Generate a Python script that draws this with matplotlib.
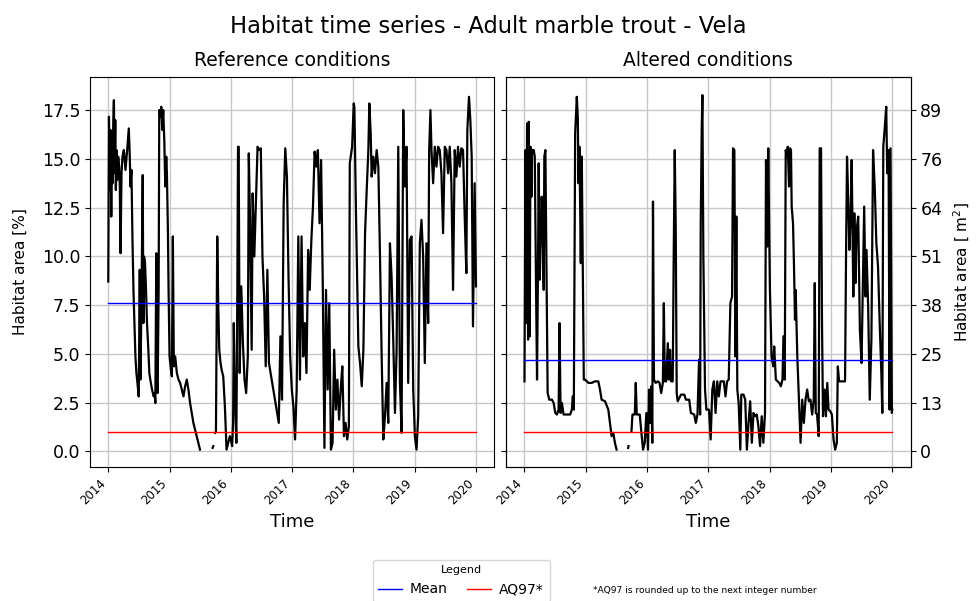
import numpy as np
import pandas as pd
import matplotlib
matplotlib.use('Agg')
import matplotlib.pyplot as plt
import matplotlib.dates as mdates

# habitat area in % of the reach, sampled along the daily record
# t = years since 2014-01-01, NaN marks missing days
ref_t = [0.000, 0.011, 0.027, 0.038, 0.049, 0.059, 0.070, 0.081, 0.092, 0.103,
         0.114, 0.124, 0.135, 0.146, 0.162, 0.178, 0.189, 0.200, 0.216, 0.232,
         0.254, 0.281, 0.308, 0.335, 0.351, 0.362, 0.378, 0.395, 0.411, 0.427,
         0.443, 0.459, 0.476, 0.497, 0.514, 0.524, 0.541, 0.562, 0.573, 0.584,
         0.600, 0.616, 0.632, 0.654, 0.670, 0.686, 0.714, 0.741, 0.757, 0.768,
         0.784, 0.795, 0.805, 0.822, 0.832, 0.849, 0.865, 0.881, 0.897, 0.914,
         0.930, 0.946, 0.957, 0.973, 0.984, 1.000, 1.022, 1.038, 1.054, 1.070,
         1.092, 1.119, 1.146, 1.173, 1.200, 1.227, 1.254, 1.281, 1.308, 1.335,
         1.362, 1.389, 1.416, 1.443, 1.470, 1.497, 1.600, 1.703, 1.714, 1.730,
         1.746, 1.757, 1.768, 1.778, 1.795, 1.811, 1.832, 1.849, 1.876, 1.903,
         1.930, 1.957, 1.984,
         2.000, 2.021, 2.037, 2.048, 2.064, 2.080, 2.090, 2.106, 2.117, 2.128,
         2.144, 2.170, 2.197, 2.223, 2.250, 2.277, 2.293, 2.314, 2.340, 2.356,
         2.383, 2.410, 2.436, 2.463, 2.489, 2.516, 2.543, 2.569, 2.596, 2.622,
         2.676, 2.729, 2.782, 2.809, 2.835, 2.862, 2.888, 2.915, 2.941, 2.968,
         2.995, 3.021, 3.048, 3.074, 3.101, 3.128, 3.154, 3.181, 3.207, 3.234,
         3.261, 3.287, 3.314, 3.340, 3.367, 3.394, 3.420, 3.447, 3.473, 3.500,
         3.527, 3.553, 3.580, 3.606, 3.633, 3.660, 3.686, 3.713, 3.739, 3.766,
         3.793, 3.819, 3.846, 3.872, 3.899, 3.926, 3.941, 3.979, 4.005,
         4.016, 4.043, 4.065, 4.081, 4.108, 4.136, 4.163, 4.190, 4.217, 4.244,
         4.260, 4.282, 4.298, 4.325, 4.352, 4.379, 4.407, 4.434, 4.461, 4.488,
         4.515, 4.542, 4.569, 4.596, 4.623, 4.650, 4.678, 4.705, 4.732, 4.759,
         4.786, 4.813, 4.840, 4.867, 4.894, 4.921, 4.949, 4.976, 5.003, 5.030,
         5.057, 5.084, 5.111, 5.138, 5.165, 5.192, 5.220, 5.236, 5.257, 5.274,
         5.301, 5.328, 5.355, 5.382, 5.409, 5.436, 5.463, 5.491, 5.518, 5.545,
         5.572, 5.599, 5.626, 5.653, 5.680, 5.707, 5.734, 5.762, 5.789, 5.816,
         5.843, 5.859, 5.886, 5.908, 5.930, 5.951, 5.978, 6.000]
ref_v = [8.71, 17.16, 13.40, 16.48, 12.04, 15.96, 13.75, 16.82, 18.01, 14.26,
         16.99, 13.40, 15.45, 13.92, 15.11, 14.60, 13.40, 10.16, 14.26, 15.11,
         15.45, 14.43, 15.45, 16.56, 15.11, 13.58, 14.43, 10.84, 8.28, 6.58,
         4.87, 4.02, 3.51, 2.82, 9.31, 3.68, 7.43, 14.17, 6.58, 9.99,
         9.65, 8.28, 6.58, 5.21, 4.02, 3.68, 3.17, 2.82, 2.99, 2.48,
         10.16, 3.51, 2.99, 8.28, 17.50, 17.16, 17.67, 16.48, 17.50, 15.96,
         13.58, 15.11, 14.26, 11.36, 8.28, 4.87, 4.19, 3.85, 11.02, 4.36,
         4.87, 4.02, 3.68, 3.51, 3.17, 2.82, 3.34, 3.68, 3.17, 2.48,
         1.97, 1.46, 1.12, 0.78, 0.44, 0.09, np.nan, 0.18, 0.27, np.nan,
         0.95, 1.03, 6.58, 11.02, 7.43, 5.21, 4.53, 4.19, 3.85, 2.31,
         0.09, 0.44, 0.78,
         0.61, 0.27, 1.46, 6.58, 3.17, 1.46, 0.44, 8.28, 15.62, 15.62,
         4.02, 8.46, 5.55, 3.68, 2.99, 4.87, 15.28, 11.70, 5.21, 13.23,
         9.99, 12.89, 15.62, 15.45, 15.54, 9.99, 7.94, 4.36, 9.31, 4.53,
         3.51, 2.48, 1.46, 5.90, 2.65, 12.72, 15.54, 14.09, 8.97, 4.87,
         3.17, 2.31, 0.61, 3.17, 11.02, 3.68, 11.02, 4.87, 6.58, 4.02,
         10.33, 8.28, 10.84, 12.55, 15.37, 14.60, 15.45, 11.70, 14.94, 8.63,
         0.18, 8.28, 3.17, 7.60, 0.09, 0.44, 5.21, 2.14, 3.68, 1.63,
         3.17, 4.36, 0.78, 1.46, 0.61, 1.29, 14.77, 15.62, 17.84,
         17.67, 12.04, 8.28, 5.38, 4.53, 3.34, 5.21, 11.19, 13.40, 15.45,
         17.84, 16.31, 14.09, 15.11, 14.26, 15.45, 14.60, 9.99, 4.87, 0.61,
         1.80, 3.51, 1.46, 10.67, 8.97, 5.73, 1.97, 5.21, 15.62, 3.51,
         0.95, 17.50, 13.58, 15.62, 3.51, 10.84, 11.02, 3.17, 0.78, 0.09,
         1.80, 10.67, 11.87, 9.99, 4.53, 10.67, 6.58, 15.45, 17.50, 15.45,
         13.75, 15.62, 14.60, 15.62, 15.45, 14.26, 11.19, 15.62, 15.45, 14.26,
         15.62, 13.75, 8.28, 15.45, 14.09, 15.62, 14.60, 15.54, 15.45, 12.04,
         9.14, 16.48, 18.18, 16.99, 15.11, 6.41, 13.75, 8.46]

alt_t = [0.000, 0.016, 0.027, 0.043, 0.059, 0.070, 0.086, 0.097, 0.114, 0.124,
         0.151, 0.168, 0.189, 0.205, 0.222, 0.232, 0.249, 0.265, 0.281, 0.297,
         0.314, 0.324, 0.341, 0.357, 0.378, 0.405, 0.449, 0.476, 0.503, 0.530,
         0.557, 0.573, 0.589, 0.611, 0.638, 0.692, 0.746, 0.773, 0.789, 0.805,
         0.827, 0.854, 0.870, 0.881, 0.897, 0.919, 0.935, 0.951, 0.968, 0.989,
         1.043, 1.097, 1.151, 1.205, 1.232, 1.259, 1.314, 1.368, 1.395, 1.422,
         1.449, 1.476, 1.503, 1.600, 1.692, 1.698, 1.720, 1.746, 1.762, 1.800,
         1.816, 1.832, 1.881, 1.908, 1.935, 1.962,
         1.989, 2.016, 2.032, 2.054, 2.070, 2.086, 2.097, 2.113, 2.140, 2.177,
         2.204, 2.231, 2.258, 2.274, 2.290, 2.312, 2.339, 2.355, 2.376, 2.392,
         2.419, 2.435, 2.452, 2.468, 2.484, 2.500, 2.554, 2.608, 2.634, 2.688,
         2.715, 2.769, 2.796, 2.823, 2.849, 2.866, 2.876, 2.892, 2.903, 2.919,
         2.946, 2.968, 3.011, 3.038, 3.065, 3.091, 3.118, 3.145, 3.172, 3.199,
         3.253, 3.280, 3.306, 3.333, 3.360, 3.387, 3.403, 3.425, 3.441, 3.457,
         3.473, 3.495, 3.522, 3.538, 3.575, 3.602, 3.629, 3.656, 3.683, 3.710,
         3.737, 3.763, 3.790, 3.817, 3.844, 3.871, 3.898, 3.925, 3.941, 3.962,
         3.978, 4.005, 4.032,
         4.059, 4.075, 4.102, 4.156, 4.183, 4.210, 4.226, 4.247, 4.263, 4.280,
         4.296, 4.317, 4.333, 4.349, 4.360, 4.382, 4.398, 4.414, 4.425, 4.452,
         4.478, 4.505, 4.532, 4.559, 4.586, 4.613, 4.640, 4.667, 4.694, 4.720,
         4.737, 4.753, 4.774, 4.801, 4.817, 4.839, 4.855, 4.871, 4.898, 4.919,
         4.941, 4.962, 4.989, 5.016, 5.043, 5.070, 5.097, 5.113, 5.134, 5.177,
         5.231, 5.247, 5.263, 5.285, 5.301, 5.323, 5.339, 5.366, 5.382, 5.403,
         5.419, 5.446, 5.473, 5.500, 5.527, 5.543, 5.565, 5.581, 5.608, 5.634,
         5.661, 5.688, 5.715, 5.742, 5.769, 5.796, 5.823, 5.839, 5.855, 5.876,
         5.903, 5.919, 5.941, 5.957, 5.973, 5.995, 6.000]
alt_v = [3.59, 15.45, 6.58, 16.82, 5.73, 16.90, 5.90, 15.62, 13.06, 15.45,
         15.45, 15.11, 8.28, 3.68, 9.99, 14.77, 8.80, 10.67, 13.06, 11.70,
         8.28, 15.11, 15.45, 9.99, 2.99, 2.65, 2.65, 2.48, 1.97, 1.89,
         2.14, 6.58, 1.97, 2.48, 1.89, 1.89, 1.89, 2.14, 2.82, 2.14,
         16.31, 18.18, 17.16, 13.75, 15.62, 9.65, 15.11, 9.31, 3.68, 3.68,
         3.51, 3.51, 3.59, 3.59, 3.17, 2.65, 2.57, 2.14, 1.46, 0.78,
         0.95, 0.44, 0.09, np.nan, 0.18, 0.27, np.nan, 1.03, 1.89, 1.89,
         3.51, 1.89, 1.89, 0.95, 0.09, 0.44,
         1.97, 0.09, 3.17, 1.46, 3.34, 0.44, 12.81, 3.68, 3.51, 3.59,
         3.51, 2.99, 3.51, 7.60, 3.59, 3.59, 5.55, 3.68, 5.21, 3.59,
         3.59, 9.99, 15.45, 11.53, 2.99, 2.57, 2.91, 2.91, 2.65, 2.65,
         1.97, 1.89, 1.46, 1.89, 4.70, 1.89, 11.70, 16.48, 18.27, 9.99,
         3.17, 2.14, 2.14, 0.61, 3.17, 3.59, 1.97, 3.59, 2.82, 3.59,
         3.59, 2.82, 3.59, 3.68, 7.60, 7.94, 15.54, 15.45, 4.87, 12.04,
         3.17, 2.48, 0.09, 2.91, 2.91, 2.65, 0.09, 1.46, 2.57, 0.44,
         1.97, 1.80, 1.89, 1.29, 0.27, 1.80, 0.44, 1.97, 14.94, 10.50,
         15.54, 8.28, 4.87,
         4.36, 5.38, 3.68, 3.51, 3.34, 3.68, 5.90, 3.68, 15.45, 15.11,
         15.62, 13.58, 15.54, 15.45, 12.55, 11.70, 9.48, 6.75, 8.28, 4.87,
         2.65, 0.44, 2.65, 1.46, 2.65, 3.17, 2.57, 2.65, 1.89, 2.65,
         8.63, 1.97, 1.89, 0.78, 15.54, 15.54, 6.58, 1.80, 3.17, 1.80,
         3.51, 2.14, 2.06, 1.89, 0.61, 0.09, 0.44, 4.36, 3.59, 3.59,
         3.59, 9.99, 15.11, 12.72, 10.33, 12.04, 14.94, 7.94, 12.21, 8.63,
         11.36, 12.04, 6.24, 4.53, 9.48, 12.55, 7.94, 10.33, 7.43, 2.65,
         5.73, 15.45, 13.58, 10.67, 9.48, 6.58, 4.02, 1.97, 15.62, 16.48,
         17.67, 14.26, 15.45, 2.14, 15.54, 1.97, 2.14]

ref_mean = 7.6
alt_mean = 4.7
aq97 = 1.0

pct_ticks = [0, 2.5, 5, 7.5, 10, 12.5, 15, 17.5]
area_ticks = [0, 13, 25, 38, 51, 64, 76, 89]

start = pd.Timestamp('2014-01-01')
end = pd.Timestamp('2019-12-31')


def to_dates(t):
    return start + pd.to_timedelta(np.asarray(t) * 365.25, unit='D')


fig, (ax1, ax2) = plt.subplots(1, 2, sharey=True, figsize=(9.77, 6.01), dpi=100)
fig.subplots_adjust(left=0.092, right=0.932, top=0.872, bottom=0.223,
                    wspace=0.029)

panels = [(ax1, ref_t, ref_v, ref_mean, 'Reference conditions'),
          (ax2, alt_t, alt_v, alt_mean, 'Altered conditions')]

for ax, t, v, mean, title in panels:
    ax.plot(to_dates(t), v, color='black', lw=1.6)
    mean_line, = ax.plot([start, end], [mean, mean], color='blue', lw=1)
    aq_line, = ax.plot([start, end], [aq97, aq97], color='red', lw=1)
    ax.set_axisbelow(True)
    ax.grid(True, color='#c8c8c8', lw=1)
    ax.set_title(title, fontsize=13.5, pad=8)
    ax.set_xlabel('Time', fontsize=13)
    ax.xaxis.set_major_locator(mdates.YearLocator())
    ax.xaxis.set_major_formatter(mdates.DateFormatter('%Y'))
    for lab in ax.get_xticklabels():
        lab.set_rotation(45)
        lab.set_ha('right')
        lab.set_fontsize(8.5)
    ax.tick_params(axis='y', labelsize=12.5)

ax1.set_ylim(-0.8, 19.2)
ax1.set_yticks(pct_ticks)
ax1.set_ylabel('Habitat area [%]', fontsize=11, labelpad=10)

axr = ax2.twinx()
axr.set_ylim(ax2.get_ylim())
axr.set_yticks(pct_ticks)
axr.set_yticklabels([str(a) for a in area_ticks])
axr.tick_params(axis='y', labelsize=12.5)
axr.set_ylabel(r'Habitat area [ m$^2$]', fontsize=11, labelpad=7)

fig.suptitle('Habitat time series - Adult marble trout - Vela', fontsize=16.3,
             y=0.975)

fig.legend([mean_line, aq_line], ['Mean', 'AQ97*'], loc='upper center',
           bbox_to_anchor=(0.472, 0.08), ncol=2, title='Legend',
           title_fontsize=8, fontsize=10, handlelength=1.7,
           handletextpad=0.6, columnspacing=1.4)
fig.text(0.607, 0.018, '*AQ97 is rounded up to the next integer number',
         fontsize=6.6, va='center')

fig.savefig('out.png', dpi=100)
